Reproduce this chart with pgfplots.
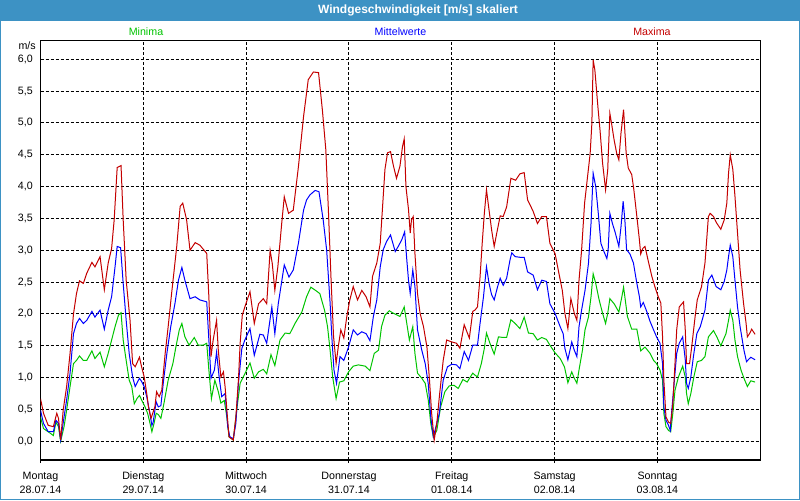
\documentclass[border=0pt]{standalone}
\usepackage{pgfplots}
\pgfplotsset{compat=1.18}
\usepackage{fontspec}
\setmainfont{Liberation Sans}

\definecolor{minc}{RGB}{0,196,0}
\definecolor{midc}{RGB}{0,0,255}
\definecolor{maxc}{RGB}{196,0,0}
\definecolor{barc}{RGB}{61,146,196}

% 1 px of the reference = 0.75pt
\newcommand{\lbl}{\fontsize{8pt}{10.5pt}\selectfont}

\begin{document}
\begin{tikzpicture}
\begin{scope}[x=0.75pt,y=0.75pt]
% window: 800 x 500 px
\useasboundingbox (0,0) rectangle (800,500);
\fill[white] (0,0) rectangle (800,500);
\fill[barc] (0,479) rectangle (800,500);
\draw[barc,line width=0.75pt] (0.5,0.5) rectangle (799.5,499.5);
\node[white,font=\fontsize{9pt}{11pt}\selectfont\bfseries] at (418,490) {Windgeschwindigkeit [m/s] skaliert};

% series names
\node[minc,font=\lbl] at (146,468) {Minima};
\node[midc,font=\lbl] at (400.5,468) {Mittelwerte};
\node[maxc,font=\lbl] at (652,468) {Maxima};
\node[anchor=east,font=\lbl,inner sep=0pt] at (36,454) {m/s};
\end{scope}

\begin{axis}[
    at={(30.375pt,30pt)}, anchor=south west,
    scale only axis,
    width=539.8pt, height=314.5pt,
    xmin=0, xmax=168,
    ymin=-0.294, ymax=6.292,
    axis line style={black,line width=1pt},
    xtick={0,24,48,72,96,120,144},
    xticklabels={{Montag\\28.07.14},{Dienstag\\29.07.14},{Mittwoch\\30.07.14},{Donnerstag\\31.07.14},{Freitag\\01.08.14},{Samstag\\02.08.14},{Sonntag\\03.08.14}},
    xticklabel style={font=\lbl,align=center,yshift=-3pt},
    xtick pos=bottom, tick align=outside,
    major tick length=2.25pt,
    x tick style={black,line width=0.75pt},
    ytick={0,0.5,1,1.5,2,2.5,3,3.5,4,4.5,5,5.5,6},
    y tick style={draw=none},
    yticklabel style={font=\lbl,
        /pgf/number format/.cd,fixed,fixed zerofill,precision=1,use comma,assume math mode=true},
    grid=major,
    major grid style={black,line width=0.75pt,dash pattern=on 2.25pt off 1.5pt},
    every axis plot/.append style={line width=0.75pt,mark=none},
]

% Minima
\addplot[minc] coordinates {
(0,0.38)(0.7,0.20)(1.8,0.15)(3.0,0.09)(3.6,0.30)(4.2,0.23)(4.7,0.0)(5.5,0.23)(6.1,0.49)(6.9,0.86)(7.7,1.22)(8.4,1.27)(9.1,1.34)(10.0,1.27)(10.8,1.27)(12.0,1.42)(12.7,1.30)(13.9,1.40)(14.9,1.17)(15.8,1.38)(16.6,1.59)(17.4,1.80)(18.2,1.98)(18.8,2.02)(19.3,1.59)(20.0,1.27)(20.7,0.96)(21.3,0.86)(21.9,0.59)(22.5,0.67)(23.1,0.72)(23.6,0.65)(24.4,0.54)(25.0,0.44)(25.4,0.33)(26.0,0.15)(26.5,0.28)(27.0,0.44)(27.5,0.42)(28.1,0.36)(28.8,0.59)(29.8,0.96)(30.9,1.22)(31.6,1.48)(32.4,1.75)(33.0,1.85)(33.7,1.64)(34.7,1.51)(35.9,1.63)(36.8,1.51)(38.0,1.51)(38.8,1.54)(39.3,1.12)(39.9,0.67)(40.7,0.96)(41.5,0.78)(42.1,0.60)(42.9,0.64)(43.5,0.38)(44.0,0.07)(45.0,0.02)(45.8,0.49)(46.6,0.91)(47.7,1.06)(48.9,1.23)(49.9,0.99)(50.9,1.09)(52.0,1.13)(52.8,1.06)(53.8,1.36)(54.7,1.19)(55.9,1.59)(57.1,1.70)(58.2,1.69)(59.4,1.85)(61.0,2.03)(62.1,2.27)(63.1,2.42)(64.2,2.37)(65.2,2.32)(66.3,2.06)(67.0,1.80)(67.6,1.43)(68.2,1.01)(69.0,0.67)(69.8,0.93)(70.8,0.95)(71.9,1.09)(73.0,1.18)(74.2,1.20)(75.8,1.18)(76.9,1.11)(77.9,1.38)(78.9,1.43)(79.6,1.80)(80.4,1.98)(81.4,2.05)(82.4,2.01)(83.9,1.96)(84.9,2.11)(85.5,1.85)(86.1,1.59)(86.9,1.80)(87.4,1.38)(88.0,1.07)(89.0,0.99)(89.8,0.91)(90.5,0.65)(91.1,0.28)(91.7,0.07)(92.5,0.17)(93.4,0.54)(94.4,0.78)(95.4,0.87)(96.5,0.88)(97.5,0.83)(98.6,0.97)(99.6,0.93)(100.9,1.07)(101.4,1.04)(102.0,1.01)(102.9,1.22)(103.6,1.46)(104.1,1.70)(104.9,1.54)(105.9,1.37)(106.9,1.64)(108.0,1.63)(108.8,1.63)(109.8,1.91)(110.8,1.85)(111.9,1.77)(112.9,1.95)(113.9,1.70)(115.0,1.69)(116.0,1.59)(117.0,1.63)(118.1,1.60)(118.9,1.51)(120.1,1.39)(121.3,1.30)(122.3,1.17)(123.1,0.92)(124.0,1.09)(124.6,0.99)(125.2,0.91)(125.7,1.12)(126.5,1.43)(127.1,1.75)(127.9,1.95)(128.5,2.27)(129.0,2.63)(129.6,2.48)(130.4,2.22)(131.2,2.01)(131.9,1.85)(132.4,2.01)(132.9,2.24)(133.9,2.16)(135.0,2.03)(135.7,2.27)(136.1,2.42)(136.4,2.27)(137.0,1.96)(138.0,1.76)(139.2,1.76)(139.8,1.54)(140.1,1.42)(141.1,1.48)(142.3,1.38)(143.1,1.27)(143.8,1.22)(144.6,1.12)(145.2,0.96)(145.5,0.44)(146.0,0.23)(146.6,0.17)(147.1,0.15)(147.6,0.44)(148.1,0.80)(148.9,1.01)(149.9,1.18)(150.5,1.01)(150.8,0.75)(151.2,0.59)(151.8,0.75)(152.5,1.01)(153.3,1.25)(154.3,1.27)(155.1,1.33)(155.9,1.64)(157.1,1.74)(158.0,1.62)(158.8,1.50)(160.0,1.69)(160.6,1.90)(161.0,2.06)(161.6,1.90)(162.1,1.59)(162.7,1.33)(163.5,1.12)(164.2,0.99)(165.0,0.86)(165.8,0.95)(166.8,0.93)
};

% Mittelwerte
\addplot[midc] coordinates {
(0,0.49)(0.7,0.28)(1.8,0.15)(3.0,0.15)(3.6,0.33)(4.2,0.28)(4.7,0.02)(5.5,0.38)(6.1,0.65)(6.9,1.07)(7.7,1.69)(8.4,1.85)(9.1,1.93)(10.0,1.85)(10.8,1.90)(12.0,2.04)(12.7,1.95)(13.9,2.06)(14.9,1.76)(15.8,2.06)(16.6,2.27)(17.4,2.74)(17.9,3.06)(18.7,3.04)(19.3,2.48)(20.0,1.90)(20.7,1.38)(21.5,1.01)(22.1,0.86)(23.1,0.99)(23.6,0.94)(24.2,0.86)(24.8,0.70)(25.4,0.49)(26.0,0.25)(26.3,0.30)(27.0,0.62)(27.5,0.54)(28.1,0.56)(28.7,0.94)(29.5,1.38)(30.4,1.80)(31.4,2.17)(32.2,2.53)(33.0,2.73)(33.7,2.53)(34.9,2.24)(36.1,2.27)(37.2,2.22)(38.8,2.19)(39.3,1.59)(39.8,0.99)(40.6,1.12)(41.1,1.40)(41.7,1.01)(42.3,0.70)(43.1,0.75)(43.7,0.23)(44.2,0.07)(45.0,0.04)(45.6,0.28)(46.2,0.91)(47.0,1.46)(47.7,1.59)(48.9,1.77)(49.9,1.35)(51.2,1.68)(52.0,1.67)(52.8,1.54)(54.0,2.11)(54.7,1.69)(55.5,2.16)(56.9,2.77)(58.0,2.58)(59.0,2.69)(60.2,3.11)(61.4,3.63)(62.1,3.79)(62.9,3.87)(64.1,3.94)(65.0,3.92)(66.0,3.47)(66.8,3.0)(67.3,2.48)(67.6,2.17)(68.0,1.64)(68.5,1.12)(69.1,0.91)(69.9,1.33)(70.8,1.27)(71.9,1.48)(73.0,1.75)(74.0,1.67)(75.0,1.72)(76.0,1.69)(76.9,1.58)(77.7,1.96)(78.5,2.22)(79.3,2.74)(80.0,3.01)(80.8,3.14)(81.7,3.24)(82.8,2.98)(83.5,3.06)(84.3,3.16)(85.0,3.29)(85.5,2.85)(85.9,2.53)(86.3,2.32)(86.9,2.69)(87.4,2.43)(88.0,1.75)(89.0,1.43)(89.8,1.22)(90.5,0.91)(91.1,0.38)(91.7,0.07)(92.3,0.23)(93.1,0.44)(94.0,0.96)(95.0,1.17)(96.0,1.21)(97.1,1.20)(97.9,1.14)(98.9,1.41)(99.9,1.27)(100.9,1.51)(101.4,1.51)(102.0,1.51)(102.6,1.85)(103.4,2.27)(104.1,2.74)(104.7,2.48)(105.3,2.30)(105.9,2.22)(106.7,2.43)(107.3,2.56)(108.0,2.45)(108.8,2.56)(109.6,2.85)(110.0,2.96)(110.8,2.90)(111.9,2.89)(112.9,2.89)(113.7,2.66)(115.0,2.61)(116.0,2.38)(117.0,2.53)(118.1,2.51)(118.9,2.16)(120.1,2.01)(121.3,1.80)(122.0,1.69)(122.4,1.46)(123.1,1.28)(124.0,1.56)(124.6,1.43)(125.2,1.33)(125.7,1.80)(126.3,2.06)(127.1,2.37)(127.9,2.79)(128.5,3.42)(129.0,4.21)(129.6,4.0)(130.2,3.58)(130.8,3.11)(131.4,3.0)(132.2,2.87)(132.5,3.0)(132.9,3.58)(133.5,3.42)(134.1,3.29)(135.0,3.06)(135.5,3.37)(136.0,3.77)(136.4,3.48)(136.8,3.01)(137.6,2.94)(138.4,2.80)(139.2,2.48)(139.8,2.27)(140.1,2.11)(140.7,2.18)(141.5,2.04)(142.3,1.88)(143.1,1.75)(143.8,1.64)(144.6,1.54)(145.2,1.22)(145.5,0.54)(146.0,0.33)(146.6,0.25)(147.0,0.17)(147.3,0.44)(147.9,0.91)(148.5,1.38)(149.1,1.54)(149.9,1.64)(150.5,1.28)(150.8,0.91)(151.2,0.83)(151.8,1.01)(152.4,1.33)(153.2,1.69)(154.0,1.80)(155.1,2.06)(155.9,2.53)(156.7,2.61)(157.7,2.43)(158.8,2.38)(159.6,2.51)(160.2,2.69)(160.6,2.90)(161.0,3.08)(161.6,2.90)(162.1,2.53)(162.7,2.11)(163.3,1.80)(164.2,1.43)(164.8,1.25)(165.2,1.28)(165.8,1.32)(166.8,1.28)
};

% Maxima
\addplot[maxc] coordinates {
(0,0.67)(0.7,0.44)(1.8,0.25)(3.0,0.23)(3.8,0.44)(4.2,0.36)(4.7,0.02)(5.3,0.49)(6.1,0.86)(6.9,1.38)(7.7,2.0)(8.4,2.32)(9.1,2.52)(10.0,2.48)(10.8,2.64)(12.0,2.81)(12.7,2.74)(13.9,2.90)(14.9,2.38)(15.8,2.80)(16.6,3.03)(17.2,3.48)(17.9,4.30)(18.8,4.33)(19.3,3.48)(20.0,2.53)(20.9,1.9)(21.5,1.22)(22.1,1.17)(23.1,1.32)(23.6,1.17)(24.2,1.01)(24.8,0.75)(25.2,0.54)(25.8,0.36)(26.7,0.54)(27.1,0.78)(27.7,0.70)(28.3,0.80)(29.1,1.38)(29.8,1.80)(30.6,2.32)(31.8,3.06)(32.6,3.69)(33.2,3.74)(34.1,3.48)(34.9,3.0)(36.1,3.12)(37.2,3.08)(38.8,2.95)(39.3,2.27)(39.8,1.33)(40.3,1.59)(41.1,1.90)(41.5,1.43)(42.1,1.01)(42.7,1.09)(43.1,0.85)(43.5,0.49)(44.0,0.07)(45.0,0.02)(45.6,0.38)(46.2,0.96)(46.6,1.54)(47.1,1.98)(47.7,2.11)(48.9,2.35)(49.9,1.85)(50.9,2.16)(52.0,2.24)(52.8,2.16)(53.6,3.0)(54.1,2.79)(54.7,2.37)(55.4,2.74)(56.3,3.42)(56.9,3.84)(57.9,3.58)(59.0,3.63)(60.2,4.31)(61.4,5.10)(62.5,5.68)(63.7,5.80)(64.9,5.79)(65.8,5.20)(66.6,4.58)(67.2,3.63)(67.8,2.58)(68.4,1.65)(69.0,1.22)(69.5,1.48)(70.1,1.75)(70.8,1.62)(71.5,1.96)(72.2,2.22)(73.0,2.43)(74.0,2.22)(75.0,2.37)(76.0,2.27)(76.9,2.11)(77.5,2.59)(78.5,2.80)(79.3,3.11)(79.9,3.74)(80.4,4.27)(81.0,4.53)(81.7,4.55)(82.4,4.32)(83.1,4.13)(83.9,4.32)(84.5,4.63)(84.9,4.75)(85.3,4.0)(85.9,3.64)(86.3,3.27)(86.6,3.48)(87.0,3.53)(87.4,2.95)(88.0,2.32)(88.6,2.01)(89.4,1.80)(90.2,1.48)(90.8,0.96)(91.3,0.44)(91.9,0.02)(92.5,0.28)(93.1,0.70)(94.0,1.27)(94.8,1.59)(96.0,1.56)(97.1,1.54)(97.9,1.46)(98.9,1.83)(100.1,1.62)(100.9,2.04)(101.4,2.06)(102.0,2.11)(102.6,2.58)(103.1,3.11)(103.6,3.58)(104.1,3.95)(104.7,3.63)(105.3,3.32)(105.9,3.06)(106.5,3.27)(107.3,3.54)(108.0,3.53)(108.8,3.68)(109.8,4.13)(110.9,4.10)(111.9,4.20)(112.9,4.22)(113.7,3.79)(114.3,3.71)(115.0,3.61)(116.0,3.42)(117.0,3.53)(118.1,3.53)(118.9,3.11)(120.1,2.95)(121.0,2.64)(121.8,2.37)(122.4,2.01)(123.1,1.77)(123.8,2.24)(124.6,2.01)(125.2,1.90)(125.7,2.53)(126.3,3.0)(127.0,3.74)(127.7,4.16)(128.3,4.52)(128.7,4.99)(129.0,5.99)(129.4,5.83)(130.1,5.26)(130.6,4.89)(131.2,4.37)(131.9,3.95)(132.4,4.26)(132.9,5.15)(133.3,4.99)(133.9,4.73)(134.5,4.52)(135.0,4.42)(135.5,4.84)(136.1,5.21)(136.7,4.53)(137.2,4.29)(138.0,4.19)(138.5,3.95)(139.2,3.53)(139.8,3.16)(140.1,2.94)(140.6,3.03)(141.1,3.06)(141.9,2.82)(142.7,2.59)(143.4,2.43)(144.2,2.27)(144.8,2.17)(145.2,1.64)(145.5,0.96)(146.0,0.38)(146.6,0.30)(147.1,0.28)(147.6,0.59)(148.1,1.22)(148.5,1.75)(149.1,2.11)(150.1,2.19)(150.5,1.75)(150.8,1.22)(151.5,1.22)(152.0,1.48)(152.8,1.96)(153.3,2.22)(154.3,2.43)(155.1,2.80)(155.9,3.53)(156.3,3.58)(157.1,3.53)(157.8,3.43)(158.8,3.33)(159.6,3.48)(160.2,3.74)(160.6,4.21)(161.0,4.50)(161.6,4.27)(162.1,3.85)(162.7,3.27)(163.3,2.69)(164.1,2.17)(164.7,1.85)(165.0,1.64)(165.5,1.69)(166.0,1.76)(166.8,1.68)
};

\end{axis}
\end{tikzpicture}
\end{document}
